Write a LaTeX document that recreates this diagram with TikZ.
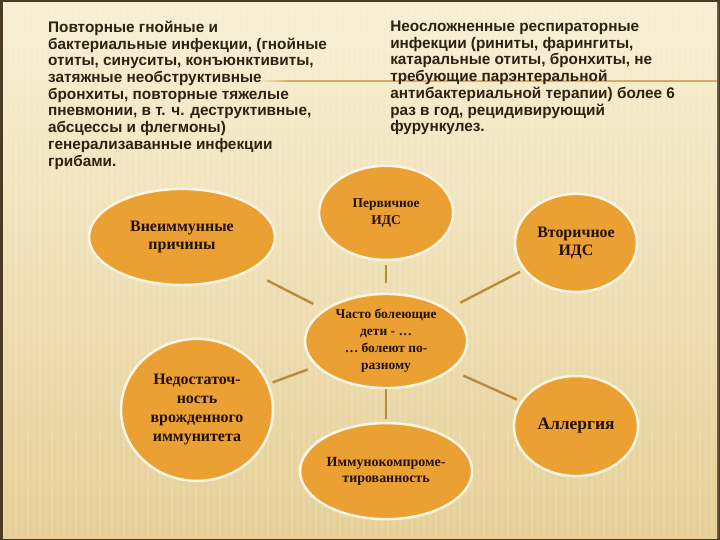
\documentclass[tikz,border=0pt]{standalone}
\usepackage{fontspec}
\setmainfont{Liberation Serif}
\newfontfamily\headfont{Liberation Sans}
\usetikzlibrary{shapes.geometric}

\definecolor{framebrown}{HTML}{4A3B22}
\definecolor{paperlight}{HTML}{F8EFD3}
\definecolor{paperdark}{HTML}{E6CF97}
\definecolor{bubbleorange}{HTML}{EAA033}
\definecolor{bubblerim}{HTML}{FFF6E2}
\definecolor{spokegold}{HTML}{B88B3A}
\definecolor{headbrown}{HTML}{2E2110}
\definecolor{bubbleink}{HTML}{231005}
\definecolor{rulegold}{HTML}{D8AA62}

\tikzstyle{bubble}=[ellipse,fill=bubbleorange,draw=bubblerim,line width=2.5pt,inner sep=0pt,align=center,text=bubbleink]
\tikzstyle{spoke}=[draw=spokegold,line width=2.4pt]
\tikzstyle{sidetext}=[anchor=north west,align=left,inner sep=0pt,text=headbrown,font=\headfont\bfseries\fontsize{15.4}{16.8}\selectfont]

\begin{document}
\begin{tikzpicture}

\useasboundingbox (0cm,0cm) rectangle (25.4cm,19.05cm);
\fill[framebrown] (0cm,0cm) rectangle (25.4cm,19.05cm);
\shade[top color=paperlight,bottom color=paperdark] (0.106cm,0.07cm) rectangle (25.294cm,18.944cm);
\foreach \k in {0,...,119}
  \fill[white,opacity=0.12] ({0.106cm+\k*0.2117cm},0.07cm) rectangle ({0.186cm+\k*0.2117cm},18.944cm);
\shade[left color=paperlight,right color=rulegold] (9.10cm,16.17cm) rectangle (10.2cm,16.22cm);
\fill[rulegold] (10.2cm,16.17cm) rectangle (25.294cm,16.22cm);

\node[sidetext] (T1) at (1.69cm,18.32cm) {Повторные гнойные и\\
бактериальные инфекции, (гнойные\\
отиты, синуситы, конъюнктивиты,\\
затяжные необструктивные\\
бронхиты, повторные тяжелые\\
пневмонии, в т. ч. деструктивные,\\
абсцессы и флегмоны)\\
генерализаванные инфекции\\
грибами.};
\node[sidetext] (T2) at (13.76cm,18.32cm) {Неосложненные респираторные\\
инфекции (риниты, фарингиты,\\
катаральные отиты, бронхиты, не\\
требующие парэнтеральной\\
антибактериальной терапии) более 6\\
раз в год, рецидивирующий\\
фурункулез.};

\node[bubble,minimum width=5.72cm,minimum height=3.32cm,font=\bfseries\fontsize{13.5}{17}\selectfont] (E0) at (13.62cm,7.02cm) {Часто болеющие\\дети - …\\… болеют по-\\разному};
\node[bubble,minimum width=6.56cm,minimum height=3.39cm,font=\bfseries\fontsize{16}{19}\selectfont] (E1) at (6.42cm,10.69cm) {Внеиммунные\\причины};
\node[bubble,minimum width=4.73cm,minimum height=3.32cm,font=\bfseries\fontsize{13.5}{17}\selectfont] (E2) at (13.62cm,11.54cm) {Первичное\\ИДС};
\node[bubble,minimum width=4.30cm,minimum height=3.46cm,font=\bfseries\fontsize{16}{18}\selectfont] (E3) at (20.32cm,10.48cm) {Вторичное\\ИДС};
\node[bubble,minimum width=5.36cm,minimum height=5.01cm,font=\bfseries\fontsize{16}{19}\selectfont] (E4) at (6.95cm,4.59cm) {Недостаточ-\\ность\\врожденного\\иммунитета};
\node[bubble,minimum width=6.07cm,minimum height=3.39cm,font=\bfseries\fontsize{14}{16}\selectfont] (E5) at (13.62cm,2.43cm) {Иммунокомпроме-\\тированность};
\node[bubble,minimum width=4.38cm,minimum height=3.53cm,font=\bfseries\fontsize{17.5}{20}\selectfont] (E6) at (20.32cm,4.02cm) {Аллергия};

\draw[spoke,shorten <=12pt,shorten >=20pt] (E0) -- (E1);
\draw[spoke,shorten <=10pt,shorten >=4pt] (E0) -- (E2);
\draw[spoke,shorten <=14pt,shorten >=4pt] (E0) -- (E3);
\draw[spoke,shorten <=9pt,shorten >=4pt] (E0) -- (E4);
\draw[spoke,shorten <=0pt,shorten >=3pt] (E0) -- (E5);
\draw[spoke,shorten <=13pt,shorten >=4pt] (E0) -- (E6);

\end{tikzpicture}
\end{document}
